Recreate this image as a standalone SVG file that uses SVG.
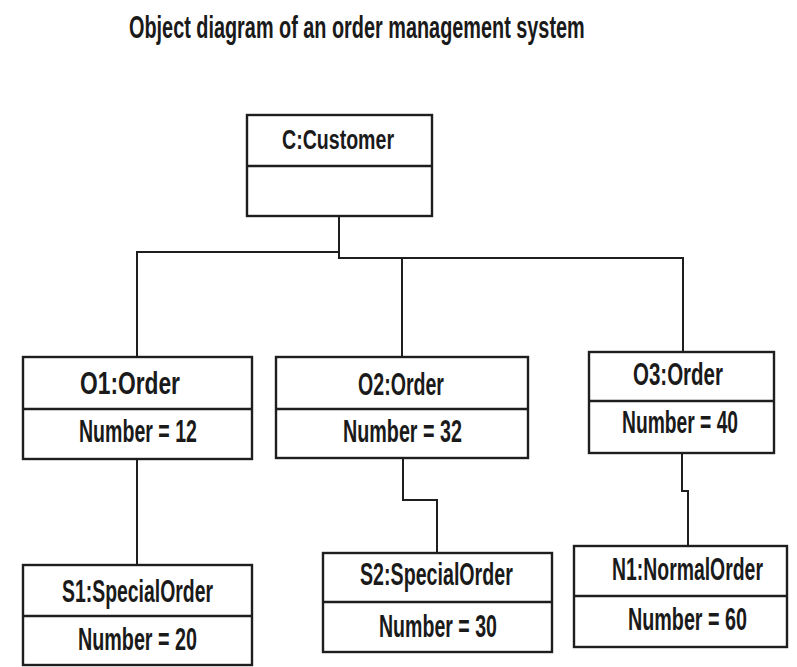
<svg xmlns="http://www.w3.org/2000/svg" width="797" height="667" viewBox="0 0 797 667">
  <style>
    .box { fill: #ffffff; stroke: #1e1e1e; stroke-width: 2.4; }
    .div { stroke: #1e1e1e; stroke-width: 2.4; }
    .lbl { font-family: "Liberation Sans", Arial, sans-serif; font-weight: bold; font-size: 31px; fill: #1a1a1a; }
    .wire { fill: none; stroke: #1e1e1e; stroke-width: 2; }
  </style>
  <rect width="797" height="667" fill="#ffffff"/>

  <!-- heading; labels use a bold face squeezed horizontally to a narrow look -->
  <text class="lbl" transform="translate(129,38) scale(0.641,1)">Object diagram of an order management system</text>

  <!-- links between objects -->
  <g id="connectors">
    <path class="wire" d="M339,216 V258 H683 V352"/>
    <path class="wire" d="M339,252 H137 V357"/>
    <path class="wire" d="M402,258 V357"/>
    <path class="wire" d="M137,459 V565"/>
    <path class="wire" d="M403,459 V500 H437 V553"/>
    <path class="wire" d="M682,453 V491 H688 V546"/>
  </g>

  <g id="customer">
    <rect class="box" x="247" y="115" width="185" height="101"/>
    <line class="div" x1="247" y1="166" x2="432" y2="166"/>
    <text class="lbl" style="font-size:27px" transform="translate(282,149) scale(0.725,1)">C:Customer</text>
  </g>

  <g id="order1">
    <rect class="box" x="23" y="357" width="229" height="102"/>
    <line class="div" x1="23" y1="409" x2="252" y2="409"/>
    <text class="lbl" transform="translate(80,394) scale(0.735,1)">O1:Order</text>
    <text class="lbl" transform="translate(79,442) scale(0.631,1)">Number = 12</text>
  </g>

  <g id="order2">
    <rect class="box" x="276" y="357" width="252" height="101"/>
    <line class="div" x1="276" y1="409" x2="528" y2="409"/>
    <text class="lbl" transform="translate(358,395) scale(0.632,1)">O2:Order</text>
    <text class="lbl" transform="translate(343,442) scale(0.637,1)">Number = 32</text>
  </g>

  <g id="order3">
    <rect class="box" x="589" y="352" width="185" height="101"/>
    <line class="div" x1="589" y1="401" x2="774" y2="401"/>
    <text class="lbl" transform="translate(633,385) scale(0.661,1)">O3:Order</text>
    <text class="lbl" transform="translate(622,433) scale(0.621,1)">Number = 40</text>
  </g>

  <g id="special1">
    <rect class="box" x="23" y="565" width="229" height="100"/>
    <line class="div" x1="23" y1="616" x2="252" y2="616"/>
    <text class="lbl" transform="translate(62,602) scale(0.626,1)">S1:SpecialOrder</text>
    <text class="lbl" transform="translate(78,650) scale(0.637,1)">Number = 20</text>
  </g>

  <g id="special2">
    <rect class="box" x="323" y="553" width="229" height="99"/>
    <line class="div" x1="323" y1="602" x2="552" y2="602"/>
    <text class="lbl" transform="translate(360,585) scale(0.634,1)">S2:SpecialOrder</text>
    <text class="lbl" transform="translate(379,637) scale(0.631,1)">Number = 30</text>
  </g>

  <g id="normal1">
    <rect class="box" x="574" y="546" width="213" height="101"/>
    <line class="div" x1="574" y1="596" x2="787" y2="596"/>
    <text class="lbl" transform="translate(612,580) scale(0.626,1)">N1:NormalOrder</text>
    <text class="lbl" transform="translate(628,630) scale(0.637,1)">Number = 60</text>
  </g>
</svg>
